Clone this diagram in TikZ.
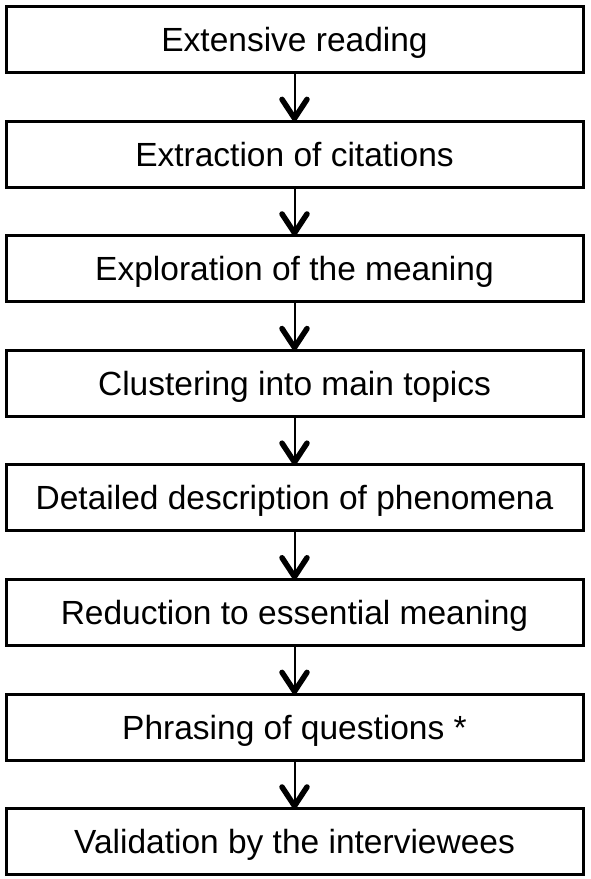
\documentclass[tikz,border=0pt]{standalone}
\usepackage{fontspec}
\setmainfont{Liberation Sans}
\usetikzlibrary{arrows.meta, positioning}

\begin{document}
\begin{tikzpicture}[
  x=1pt, y=1pt,
  node distance=48.6pt,
  stepbox/.style={rectangle, draw=black, line width=3pt, outer sep=0pt,
    minimum width=577pt, minimum height=66pt, inner sep=0pt,
    text height=24pt, text depth=0pt,
    font=\fontsize{33.5}{40}\selectfont, align=center},
  arrow/.style={-{Straight Barb[length=19pt, width=25pt, line width=5.5pt, round]}, line width=2pt}
]
\useasboundingbox (0,0) rectangle (590,-879);

% Steps of the procedure
\node[stepbox] (read) at (294.5,-39.5) {Extensive reading};
\node[stepbox, below=of read] (cite) {Extraction of citations};
\node[stepbox, below=of cite] (meaning) {Exploration of the meaning};
\node[stepbox, below=of meaning] (cluster) {Clustering into main topics};
\node[stepbox, below=of cluster] (describe) {Detailed description of phenomena};
\node[stepbox, below=of describe] (reduce) {Reduction to essential meaning};
\node[stepbox, below=of reduce] (phrase) {Phrasing of questions *};
\node[stepbox, below=of phrase] (valid) {Validation by the interviewees};

\draw[arrow] (read) -- (cite);
\draw[arrow] (cite) -- (meaning);
\draw[arrow] (meaning) -- (cluster);
\draw[arrow] (cluster) -- (describe);
\draw[arrow] (describe) -- (reduce);
\draw[arrow] (reduce) -- (phrase);
\draw[arrow] (phrase) -- (valid);
\end{tikzpicture}
\end{document}
